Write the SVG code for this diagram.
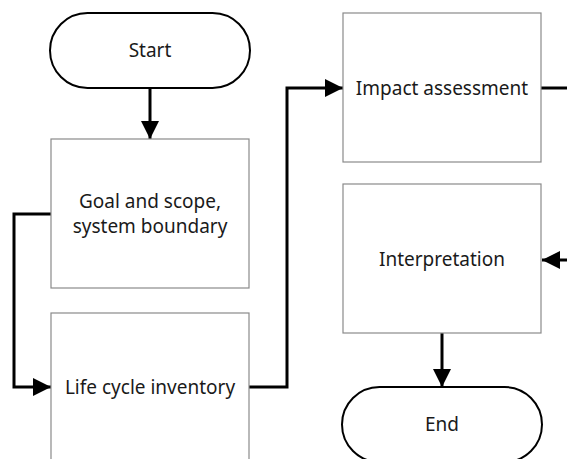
<svg xmlns="http://www.w3.org/2000/svg" width="567" height="459" viewBox="0 0 567 459">
<style>
.box{fill:#fff;stroke:#8a8a8a;stroke-width:1.2}
.term{fill:#fff;stroke:#000;stroke-width:2}
.lbl{font-family:"Noto Sans","Open Sans",sans-serif;font-size:19px;fill:#1a1a1a;text-anchor:middle}
.conn{fill:none;stroke:#000;stroke-width:3}
</style>
<defs>
<marker id="ah" viewBox="0 0 18 18" markerWidth="18" markerHeight="18" refX="18" refY="9" orient="auto" markerUnits="userSpaceOnUse">
<path d="M0,0 L18,9 L0,18 Z" fill="#000"/>
</marker>
</defs>
<rect x="0" y="0" width="567" height="459" fill="#fff"/>
<g id="connectors">
<path class="conn" d="M150,88 V139" marker-end="url(#ah)"/>
<path class="conn" d="M51,214 H14 V387 H51" marker-end="url(#ah)"/>
<path class="conn" d="M249,387 H287 V88 H343" marker-end="url(#ah)"/>
<path class="conn" d="M541,88 H567"/>
<path class="conn" d="M567,260 H542" marker-end="url(#ah)"/>
<path class="conn" d="M442,333 V387" marker-end="url(#ah)"/>
</g>
<g id="start">
<rect class="term" x="50" y="13" width="200" height="75" rx="37.5"/>
<text class="lbl" x="150" y="57">Start</text>
</g>
<g id="goal">
<rect class="box" x="51" y="139" width="198" height="149"/>
<text class="lbl" x="150" y="208">Goal and scope,</text>
<text class="lbl" x="150" y="233">system boundary</text>
</g>
<g id="lci">
<rect class="box" x="51" y="313" width="198" height="160"/>
<text class="lbl" x="150" y="394">Life cycle inventory</text>
</g>
<g id="impact">
<rect class="box" x="343" y="13" width="198" height="149"/>
<text class="lbl" x="442" y="95">Impact assessment</text>
</g>
<g id="interp">
<rect class="box" x="343" y="184" width="198" height="149"/>
<text class="lbl" x="442" y="266">Interpretation</text>
</g>
<g id="end">
<rect class="term" x="342" y="387" width="200" height="75" rx="37.5"/>
<text class="lbl" x="442" y="431">End</text>
</g>
</svg>
